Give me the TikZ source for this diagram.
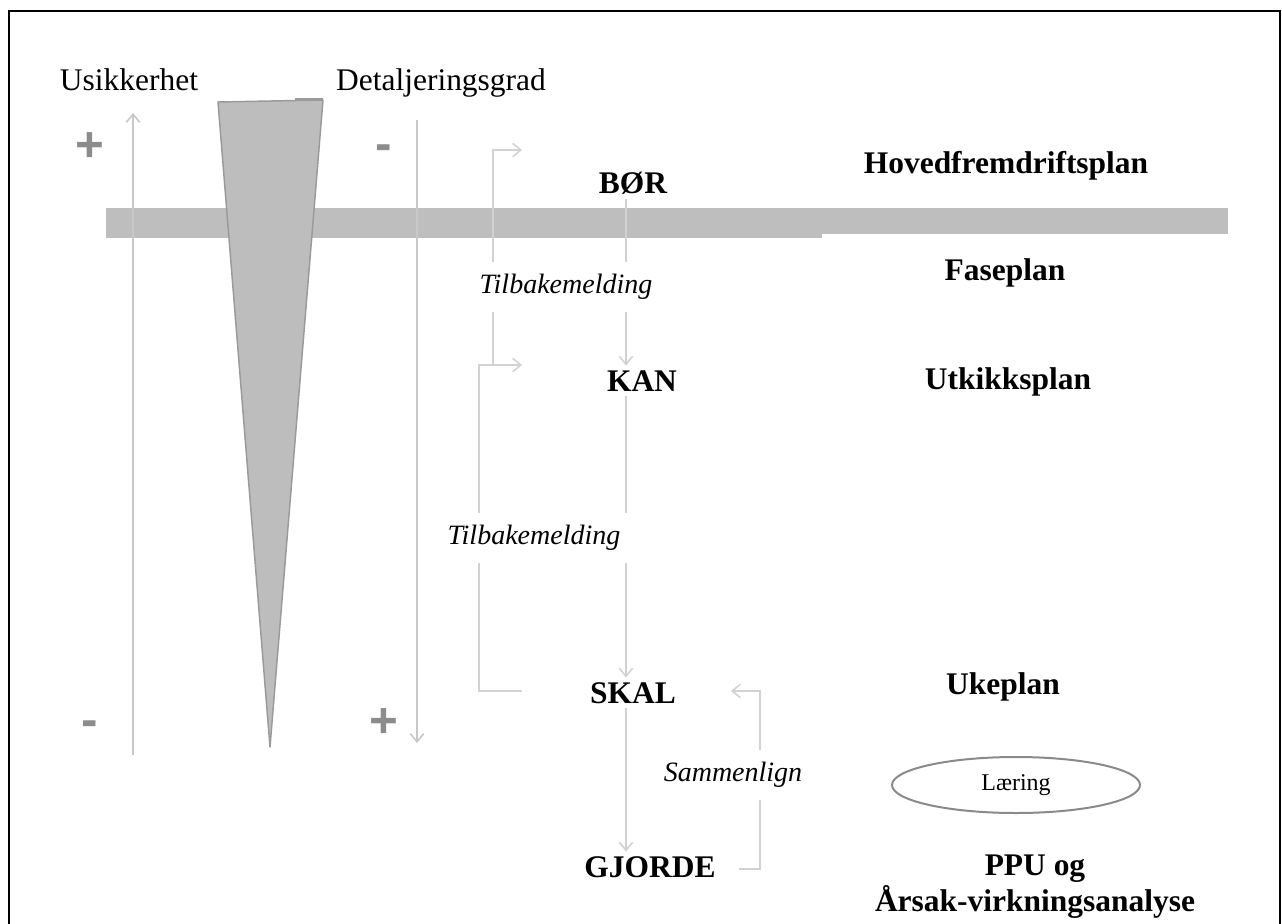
\documentclass[tikz,border=0pt]{standalone}
\usepackage{fontspec}
\setmainfont{Liberation Serif}
\newfontfamily\signfont{Liberation Sans}
\usetikzlibrary{arrows.meta,shapes.geometric}

\definecolor{bandgray}{HTML}{BEBEBE}
\definecolor{axisgray}{HTML}{C8C8C8}
\definecolor{linkgray}{HTML}{D2D2D2}
\definecolor{wedgefill}{HTML}{BDBDBD}
\definecolor{wedgeedge}{HTML}{9A9A9A}
\definecolor{signgray}{HTML}{8C8C8C}
\definecolor{ellgray}{HTML}{8A8A8A}

\tikzset{
  head/.style={font=\fontsize{23.6pt}{28pt}\selectfont, anchor=base, inner sep=0pt},
  level/.style={font=\fontsize{23.6pt}{28pt}\selectfont\bfseries, anchor=base},
  plan/.style={font=\fontsize{23.6pt}{28pt}\selectfont\bfseries, anchor=base, inner sep=0pt},
  note/.style={font=\fontsize{21pt}{25pt}\selectfont\itshape, fill=white, inner ysep=9pt},
  sign/.style={font=\signfont\bfseries\fontsize{37pt}{40pt}\selectfont, text=signgray, inner sep=0pt},
  axis/.style={draw=axisgray, line width=2pt},
  link/.style={draw=linkgray, line width=1.4pt},
  tip/.style={-{Straight Barb[length=6pt,width=10pt,line width=1.2pt]}},
}

\begin{document}
\begin{tikzpicture}[x=0.75pt,y=-0.75pt]
\useasboundingbox (0,0) rectangle (1282,924);

% outer frame, open at the bottom
\draw[black, line width=1.6pt] (9,924) -- (9,11) -- (1280,11) -- (1280,924);

% horizontal band (slightly shallower on its right part)
\fill[bandgray] (106,208) rectangle (822,238);
\fill[bandgray] (822,208) rectangle (1228,234);

% uncertainty and detail axes
\coordinate (uncLow) at (133,755);
\coordinate (uncHigh) at (133,113);
\coordinate (detLow) at (417,120);
\coordinate (detHigh) at (417,743);
\draw[axis, tip] (uncLow) -- (uncHigh);
\draw[axis, tip] (detLow) -- (detHigh);

% wedge
\filldraw[fill=wedgefill, draw=wedgeedge, line width=1.1pt, line join=round]
  (218,102) -- (323,100) -- (270,747) -- cycle;
\draw[wedgeedge, line width=1.6pt] (295,99.5) -- (323,99.5);

% axis headings and signs
\node[head] (unc) at (129,90) {Usikkerhet};
\node[head] (det) at (441,90) {Detaljeringsgrad};
\node[sign] (uncPlus) at (90,147) {+};
\node[sign] (uncMinus) at (90,729) {-};
\node[sign] (detMinus) at (384,153) {-};
\node[sign] (detPlus) at (384,723) {+};

% planning levels
\node[level] (bor) at (633,193) {BØR};
\node[level] (kan) at (642,391) {KAN};
\node[level] (skal) at (633,703) {SKAL};
\node[level] (gjorde) at (650,877) {GJORDE};

% plans
\node[plan] (hfp) at (1006,173) {Hovedfremdriftsplan};
\node[plan] (fase) at (1005,280) {Faseplan};
\node[plan] (utk) at (1008,389) {Utkikksplan};
\node[plan] (uke) at (1003,694) {Ukeplan};
\node[font=\fontsize{23.6pt}{27pt}\selectfont\bfseries, align=center] (ppu) at (1035,887)
  {PPU og\\Årsak-virkningsanalyse};
\node[ellipse, draw=ellgray, line width=1.5pt, minimum width=186pt, minimum height=42pt,
      font=\fontsize{18pt}{21pt}\selectfont] (laering) at (1016,785) {Læring};

% main flow
\coordinate (spine) at (626,0);
\draw[link, tip] (bor.south -| spine) -- (kan.north -| spine);
\draw[link, tip] (kan.south -| spine) -- (skal.north -| spine);
\draw[link, tip] (skal.south -| spine) -- (gjorde.north -| spine);

% feedback loops
\coordinate (fbKanA) at (493,365);
\coordinate (fbBor) at (522,150);
\coordinate (fbSkal) at (522,691);
\coordinate (fbCorner) at (479,365);
\coordinate (fbKan) at (522,365);
\coordinate (cmpGjorde) at (739,869);
\coordinate (cmpCorner) at (760,691);
\coordinate (cmpSkal) at (731,691);
\draw[link, tip] (fbKanA) |- (fbBor);
\draw[link, tip] (fbSkal) -| (fbCorner) -- (fbKan);
\draw[link, tip] (cmpGjorde) -| (cmpCorner) -- (cmpSkal);

% loop labels
\node[note, inner xsep=2pt] (tb1) at (566,287) {Tilbakemelding};
\node[note, inner xsep=12pt] (tb2) at (534,538) {Tilbakemelding};
\node[note, inner xsep=2pt] (cmp) at (733,775) {Sammenlign};
\end{tikzpicture}
\end{document}
